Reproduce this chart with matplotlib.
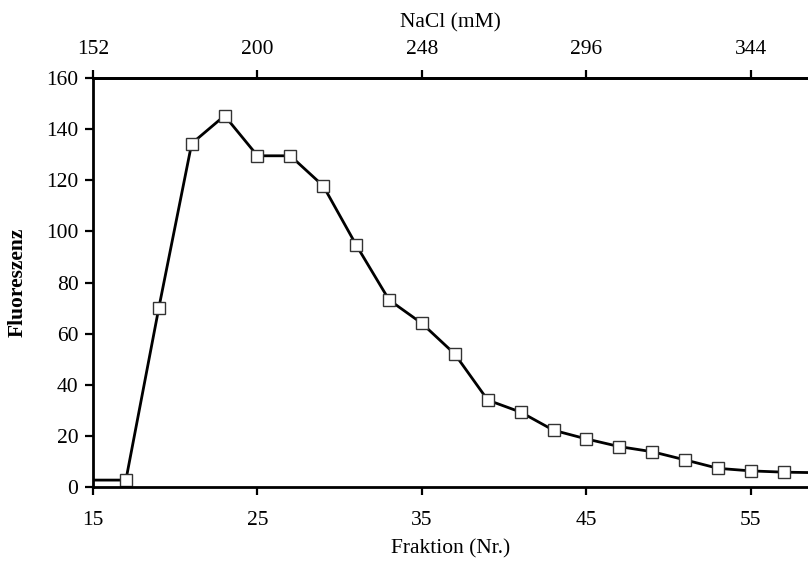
import numpy as np
import matplotlib
matplotlib.use('Agg')
import matplotlib.pyplot as plt

plt.rcParams['font.family'] = ['Liberation Serif', 'DejaVu Serif']
plt.rcParams['mathtext.fontset'] = 'stix'

# Fraktion number and fluorescence
fraktion = [15, 17, 19, 21, 23, 25, 27, 29, 31, 33, 35, 37, 39, 41, 43, 45, 47, 49, 51, 53, 55, 57, 59]
fluoreszenz = [2.7, 2.7, 70, 134.4, 145.3, 129.6, 129.6, 117.8, 94.7, 73.2, 64.0, 52.0, 34.0, 29.3,
               22.2, 18.8, 15.8, 13.8, 10.6, 7.3, 6.3, 5.8, 5.6]

x_ticks = [15, 25, 35, 45, 55]
y_ticks = [0, 20, 40, 60, 80, 100, 120, 140, 160]
nacl_ticks = [152, 200, 248, 296, 344]


def frak_to_nacl(f):
    return 152 + (np.asarray(f) - 15) * 4.8


def nacl_to_frak(n):
    return 15 + (np.asarray(n) - 152) / 4.8


fs = 15.5
fig = plt.figure(figsize=(8.08, 5.66), dpi=100)
ax = fig.add_axes([0.1151, 0.1396, 1.0 - 0.1151, 0.862 - 0.1396])

ax.plot(fraktion, fluoreszenz, color='black', lw=2.0, marker='s', ms=9,
        mfc='white', mec='#333333', mew=1.0, markevery=slice(1, None), clip_on=True)

ax.set_xlim(15, 58.47)
ax.set_ylim(0, 160)
ax.set_xticks(x_ticks)
ax.set_yticks(y_ticks)
ax.tick_params(axis='both', labelsize=fs, width=1.6, length=5.5, direction='out', colors='black')
ax.tick_params(axis='x', pad=11.5)
ax.tick_params(axis='y', pad=5)

for side in ['left', 'bottom', 'top']:
    ax.spines[side].set_linewidth(2.0)
ax.spines['right'].set_visible(False)

ax.set_xlabel('Fraktion (Nr.)', fontsize=fs, labelpad=7)
ax.set_ylabel('Fluoreszenz', fontsize=fs, fontweight='bold', labelpad=13)

top = ax.secondary_xaxis('top', functions=(frak_to_nacl, nacl_to_frak))
top.set_xticks(nacl_ticks)
top.tick_params(labelsize=fs, width=1.6, length=5.5, direction='out', pad=8)
top.spines['top'].set_linewidth(2.0)
top.set_xlabel('NaCl (mM)', fontsize=fs, labelpad=9)

fig.savefig('out.png', dpi=100)
